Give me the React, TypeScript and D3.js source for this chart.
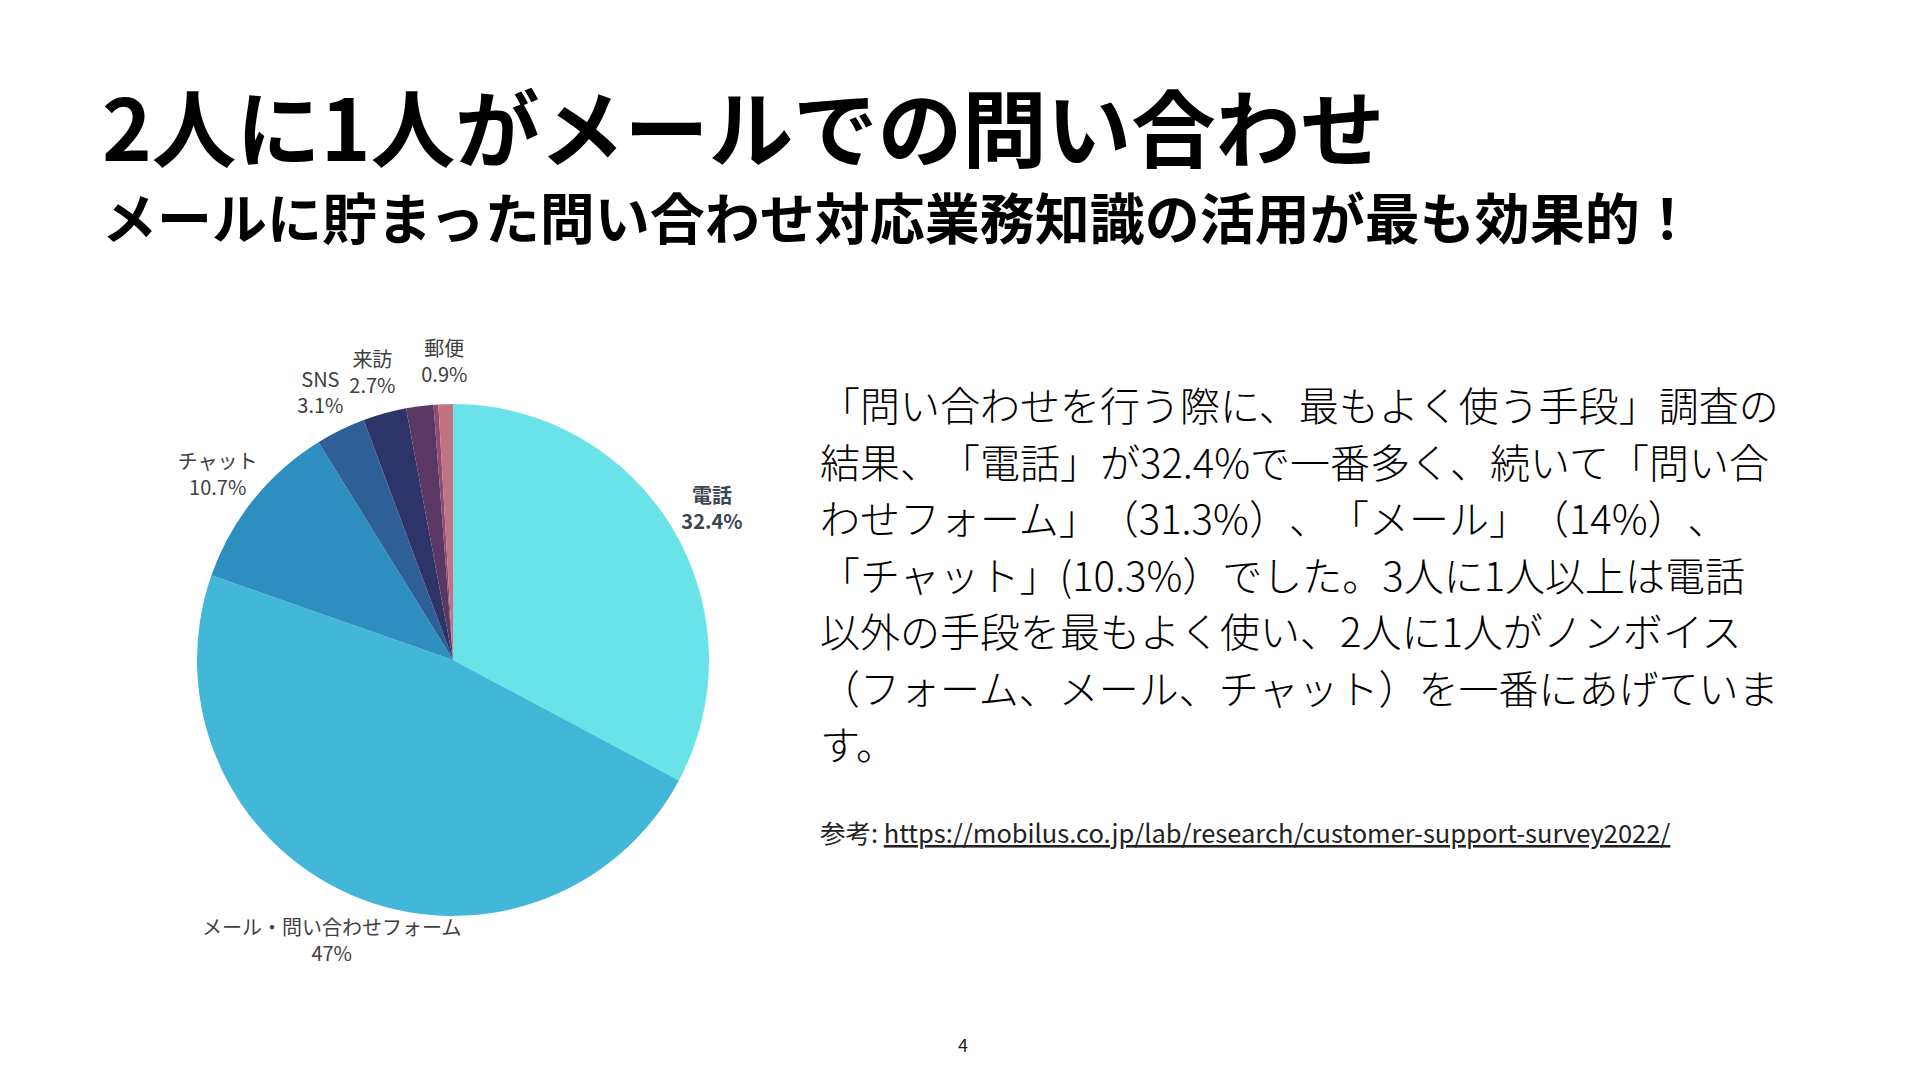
import React from "react";
import * as d3 from "d3";

const sliceNames = ["電話", "メール・問い合わせフォーム", "チャット", "SNS", "来訪", "その他1", "その他2", "郵便"];
const sliceValues = [32.4, 47, 10.7, 3.1, 2.7, 1.7, 0.3, 0.9];
const sliceLabels = ["32.4%", "47%", "10.7%", "3.1%", "2.7%", "", "", "0.9%"];
const sliceColors = ["#6ae3e8", "#43b7d7", "#2e8ebf", "#2e6097", "#2f3468", "#5b3763", "#8e4b74", "#c27282"];
const highlighted = "電話";

const titleText = "2人に1人がメールでの問い合わせ";
const subtitleText = "メールに貯まった問い合わせ対応業務知識の活用が最も効果的！";
const bodyLines = [
  "「問い合わせを行う際に、最もよく使う手段」調査の",
  "結果、「電話」が32.4%で一番多く、続いて「問い合",
  "わせフォーム」（31.3%）、「メール」（14%）、",
  "「チャット」(10.3%）でした。3人に1人以上は電話",
  "以外の手段を最もよく使い、2人に1人がノンボイス",
  "（フォーム、メール、チャット）を一番にあげていま",
  "す。",
];
const refPrefix = "参考: ";
const refUrl = "https://mobilus.co.jp/lab/research/customer-support-survey2022/";
const pageNumber = "4";

const W = 1920;
const H = 1080;
const FONT = "'Noto Sans CJK JP', 'Noto Sans', sans-serif";

export default function App() {
  const cx = 453;
  const cy = 660;
  const radius = 256;
  const labelR = 302;

  const data = sliceNames.map((n, i) => ({ name: n, value: sliceValues[i], label: sliceLabels[i], color: sliceColors[i] }));
  const pie = d3.pie<any>().sort(null).value((d: any) => d.value).startAngle(0).endAngle(2 * Math.PI);
  const arcs = pie(data);
  const arcGen = d3.arc<any>().innerRadius(0).outerRadius(radius);
  const labelArc = d3.arc<any>().innerRadius(labelR).outerRadius(labelR);
  const fullWidth = { textSpacingTrim: "space-all" } as any;

  return (
    <div style={{ position: "absolute", left: 0, top: 0, width: W, height: H, background: "#fff" }}>
      <svg width={W} height={H} viewBox={`0 0 ${W} ${H}`} style={{ display: "block" }}>
        <rect x={0} y={0} width={W} height={H} fill="#ffffff" />
        <text x={102} y={161} fontFamily={FONT} fontWeight={700} fontSize={84.5} fill="#000" style={fullWidth}>
          {titleText}
        </text>
        <text x={102} y={239} fontFamily={FONT} fontWeight={700} fontSize={55} fill="#000" style={fullWidth}>
          {subtitleText}
        </text>

        <g transform={`translate(${cx},${cy})`}>
          {arcs.map((a: any, i: number) => (
            <path key={i} d={arcGen(a) as string} fill={a.data.color} />
          ))}
          {arcs.map((a: any, i: number) => {
            if (!a.data.label) return null;
            const [lx, ly] = labelArc.centroid(a);
            const hi = a.data.name === highlighted;
            return (
              <text
                key={"l" + i}
                x={lx}
                y={ly}
                textAnchor="middle"
                fontFamily={FONT}
                fontSize={20}
                fontWeight={hi ? 700 : 400}
                fill={hi ? "#3a4650" : "#404040"}
              >
                <tspan x={lx} dy={-2}>{a.data.name}</tspan>
                <tspan x={lx} dy={26}>{a.data.label}</tspan>
              </text>
            );
          })}
        </g>

        <text fontFamily={FONT} fontSize={40} fontWeight={300} fill="#000" style={fullWidth}>
          {bodyLines.map((l, i) => (
            <tspan key={i} x={820} y={421 + i * 56.5}>{l}</tspan>
          ))}
        </text>

        <text x={820} y={843} fontFamily={FONT} fontSize={25.5} fill="#222">
          <tspan>{refPrefix}</tspan>
          <tspan textDecoration="underline">{refUrl}</tspan>
        </text>

        <text x={963} y={1052} textAnchor="middle" fontFamily={FONT} fontSize={18} fill="#222">
          {pageNumber}
        </text>
      </svg>
    </div>
  );
}
